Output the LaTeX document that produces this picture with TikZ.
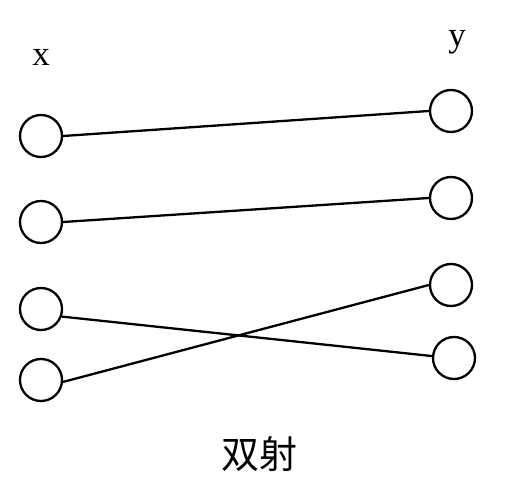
\documentclass[tikz,border=0pt]{standalone}
\usepackage{fontspec}
\setmainfont{Liberation Serif}
\newfontfamily\cjk{Noto Sans CJK SC}
\begin{document}
\begin{tikzpicture}[x=1pt,y=-1pt,
  dot/.style={circle,draw=black,line width=2.3pt,minimum size=42pt,inner sep=0pt},
  link/.style={draw=black,line width=2.3pt},
  lbl/.style={font=\fontsize{35}{38}\selectfont}]
\useasboundingbox (0,0) rectangle (512,486);
\node[dot] (a1) at (41,136) {};
\node[dot] (a2) at (41,222) {};
\node[dot] (a3) at (41,309) {};
\node[dot] (a4) at (41,380) {};
\node[dot] (b1) at (451,111) {};
\node[dot] (b2) at (451,198) {};
\node[dot] (b3) at (451,285) {};
\node[dot] (b4) at (454,358) {};
\node[lbl] (x) at (41,57) {x};
\node[lbl] (y) at (457,42) {y};
\node[font=\cjk\fontsize{38}{40}\selectfont] (cap) at (259,454) {双射};
\path[link] (a1.east) -- (b1.west);
\path[link] (a2.east) -- (b2.west);
\path[link] (a3.-20) -- (b4.175);
\path[link] (a4.-5) -- (b3.west);
\end{tikzpicture}
\end{document}
